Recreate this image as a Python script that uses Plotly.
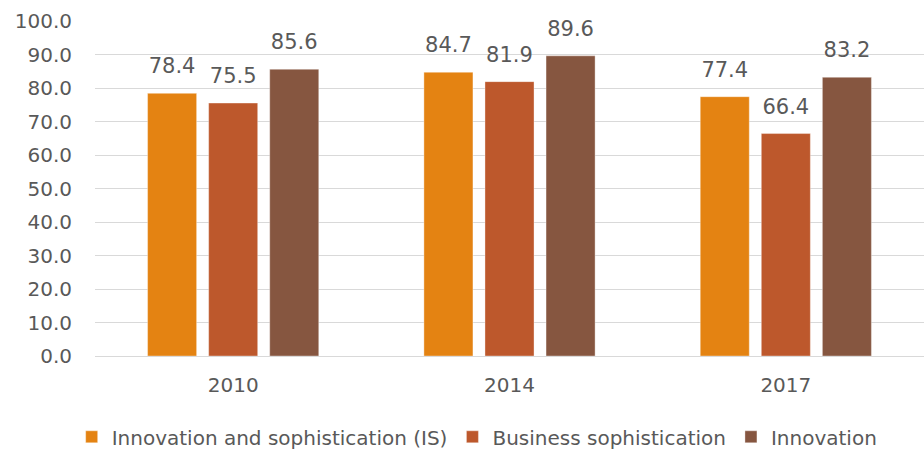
import plotly.graph_objects as go

years = ["2010", "2014", "2017"]
series_names = [
    "Innovation and sophistication (IS)",
    "Business sophistication",
    "Innovation",
]
is_values = [78.4, 84.7, 77.4]
business_values = [75.5, 81.9, 66.4]
innovation_values = [85.6, 89.6, 83.2]
colors = ["#E48312", "#BD582C", "#865640"]

FONT = "DejaVu Sans"
TEXT = "#595959"
GRID = "#D9D9D9"

fig = go.Figure()
all_values = [is_values, business_values, innovation_values]
for i, (name, vals, col) in enumerate(zip(series_names, all_values, colors)):
    fig.add_trace(go.Bar(
        x=years, y=vals, name=name, offsetgroup=str(i),
        marker=dict(color=col, line=dict(color="rgba(255,255,255,0.6)", width=0.6)),
    ))

# value labels placed above each bar, sharing the bar offsets
for i, vals in enumerate(all_values):
    fig.add_trace(go.Scatter(
        x=years, y=vals, offsetgroup=str(i), mode="markers+text",
        marker=dict(size=22, color="rgba(0,0,0,0)"),
        text=[f"{v:.1f}" for v in vals], textposition="top center",
        textfont=dict(family=FONT, size=21, color=TEXT),
        showlegend=False, hoverinfo="skip", cliponaxis=False,
    ))

fig.update_layout(
    width=924, height=451,
    margin=dict(l=95, r=0, t=21, b=95, autoexpand=False),
    paper_bgcolor="white", plot_bgcolor="white",
    barmode="group", bargap=0.337, bargroupgap=0.197,
    scattermode="group", scattergap=0.337,
    font=dict(family=FONT, color=TEXT),
    showlegend=True,
    legend=dict(
        orientation="h", x=0.461, xanchor="center", y=-0.183, yanchor="top",
        font=dict(family=FONT, size=20, color=TEXT),
        itemwidth=30, traceorder="normal",
    ),
    xaxis=dict(
        showgrid=False, showline=True, linecolor=GRID, linewidth=1.3,
        tickfont=dict(family=FONT, size=20, color=TEXT), ticks="",
        ticklabelstandoff=11,
    ),
    yaxis=dict(
        range=[0, 100], dtick=10, tickformat=".1f",
        showgrid=True, gridcolor=GRID, gridwidth=1.3,
        zeroline=False, showline=False, ticks="",
        tickfont=dict(family=FONT, size=20, color=TEXT), ticklabelstandoff=22,
    ),
)

fig.write_html("out.html")
